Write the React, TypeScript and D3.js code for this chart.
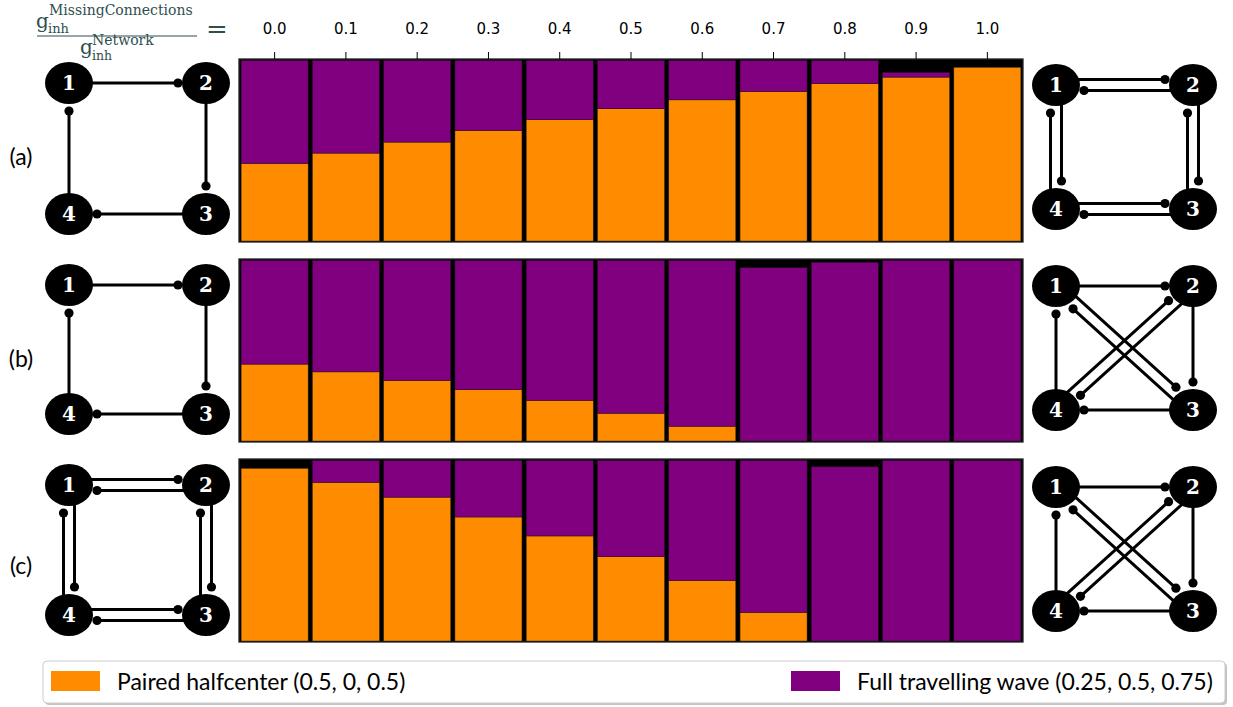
import React from "react";
import * as d3 from "d3";

// Ratio of inhibitory strength of the missing connections to the network's own
const ratioLabels = ["0.0", "0.1", "0.2", "0.3", "0.4", "0.5", "0.6", "0.7", "0.8", "0.9", "1.0"];

// Fraction of runs ending in each rhythm, per network (a), (b), (c)
const pairedA = [0.43, 0.487, 0.548, 0.612, 0.672, 0.733, 0.782, 0.828, 0.872, 0.908, 0.962];
const travelA = [0.57, 0.513, 0.452, 0.388, 0.328, 0.267, 0.218, 0.172, 0.128, 0.026, 0];
const pairedB = [0.426, 0.383, 0.335, 0.284, 0.225, 0.154, 0.082, 0, 0, 0, 0];
const travelB = [0.574, 0.617, 0.665, 0.716, 0.775, 0.846, 0.918, 0.96, 0.99, 1.0, 1.0];
const pairedC = [0.956, 0.879, 0.797, 0.687, 0.582, 0.467, 0.335, 0.159, 0, 0, 0];
const travelC = [0, 0.121, 0.203, 0.313, 0.418, 0.533, 0.665, 0.841, 0.965, 1.0, 1.0];

const rowLabels = ["(a)", "(b)", "(c)"];
const legendLabels = ["Paired halfcenter (0.5, 0, 0.5)", "Full travelling wave (0.25, 0.5, 0.75)"];

const ORANGE = "#ff8c00";
const PURPLE = "#800080";
const FORMULA = "#2f4f4f";
const SANS = "Lato, 'DejaVu Sans', sans-serif";
const SERIF = "'DejaVu Serif', 'Liberation Serif', serif";

type Edge = [number, number];
const ringForward: Edge[] = [[1, 2], [2, 3], [3, 4], [4, 1]];
const ringBackward: Edge[] = [[2, 1], [3, 2], [4, 3], [1, 4]];
const diagonals: Edge[] = [[1, 3], [3, 1], [2, 4], [4, 2]];

const rows = [
  { paired: pairedA, travel: travelA, left: ringForward, right: [...ringForward, ...ringBackward] },
  { paired: pairedB, travel: travelB, left: ringForward, right: [...ringForward, ...diagonals] },
  { paired: pairedC, travel: travelC, left: [...ringForward, ...ringBackward], right: [...ringForward, ...diagonals] },
];

const W = 1233;
const H = 707;
const panelLeft = 239;
const panelRight = 1023;
const panelTop0 = 59;
const panelStep = 200;
const panelH = 183;

const leftNodes = { x: [69, 206], y: [[83, 214], [285, 414], [485, 615]] };
const rightNodes = { x: [1056, 1193], y: [[85, 209], [286, 410], [487, 611]] };
const rowLabelY = [157, 359, 566];

function Network({ xs, ys, edges }: { xs: number[]; ys: number[]; edges: Edge[] }) {
  const pos: Record<number, [number, number]> = {
    1: [xs[0], ys[0]],
    2: [xs[1], ys[0]],
    3: [xs[1], ys[1]],
    4: [xs[0], ys[1]],
  };
  const gap = 28;
  const sep = 5.5;
  return (
    <g>
      {edges.map(([s, t], i) => {
        const [sx, sy] = pos[s];
        const [tx, ty] = pos[t];
        const len = Math.hypot(tx - sx, ty - sy);
        const dx = (tx - sx) / len;
        const dy = (ty - sy) / len;
        const paired = edges.some((e) => e[0] === t && e[1] === s);
        const off = paired ? sep : 0;
        const ox = dy * off;
        const oy = -dx * off;
        const ex = tx + ox - dx * gap;
        const ey = ty + oy - dy * gap;
        return (
          <g key={i}>
            <line x1={sx + ox} y1={sy + oy} x2={ex} y2={ey} stroke="#000" strokeWidth={3} />
            <circle cx={ex} cy={ey} r={4.6} fill="#000" />
          </g>
        );
      })}
      {[1, 2, 3, 4].map((n) => (
        <g key={n}>
          <ellipse cx={pos[n][0]} cy={pos[n][1]} rx={24} ry={21} fill="#000" />
          <text
            x={pos[n][0]}
            y={pos[n][1] + 7}
            textAnchor="middle"
            fill="#fff"
            fontFamily={SERIF}
            fontWeight="bold"
            fontSize={20}
          >
            {n}
          </text>
        </g>
      ))}
    </g>
  );
}

export default function App() {
  const x = d3
    .scaleBand<string>()
    .domain(ratioLabels)
    .range([panelLeft, panelRight])
    .paddingInner(0.06)
    .paddingOuter(0.03);

  return (
    <svg
      width={W}
      height={H}
      viewBox={`0 0 ${W} ${H}`}
      style={{ position: "absolute", left: 0, top: 0, background: "#fff" }}
    >
      {/* ratio formula */}
      <g fill={FORMULA} fontFamily={SERIF}>
        <text x={36} y={28} fontSize={20}>g</text>
        <text x={48} y={33} fontSize={13}>inh</text>
        <text x={49} y={15} fontSize={14}>MissingConnections</text>
        <line x1={37} x2={197} y1={36} y2={36} stroke={FORMULA} strokeWidth={1.1} />
        <text x={80} y={54} fontSize={20}>g</text>
        <text x={92} y={60} fontSize={12.5}>inh</text>
        <text x={92} y={45} fontSize={14}>Network</text>
        <text x={217} y={38} fontSize={26} textAnchor="middle">=</text>
      </g>

      {rows.map((row, r) => {
        const top = panelTop0 + r * panelStep;
        const y = d3.scaleLinear().domain([0, 1]).range([top + panelH - 1, top + 1.5]);
        return (
          <g key={r}>
            <rect x={panelLeft} y={top} width={panelRight - panelLeft} height={panelH} fill="#000" />
            {ratioLabels.map((lab, i) => {
              const bx = x(lab)!;
              const bw = x.bandwidth();
              const p = row.paired[i];
              const t = row.travel[i];
              return (
                <g key={lab}>
                  {p > 0 && (
                    <rect x={bx} y={y(p)} width={bw} height={y(0) - y(p)} fill={ORANGE} stroke="#3a2a10" strokeWidth={0.5} />
                  )}
                  {t > 0 && (
                    <rect x={bx} y={y(p + t)} width={bw} height={y(p) - y(p + t)} fill={PURPLE} stroke="#2a0a2a" strokeWidth={0.5} />
                  )}
                </g>
              );
            })}
            <rect
              x={panelLeft}
              y={top}
              width={panelRight - panelLeft}
              height={panelH}
              fill="none"
              stroke="#222"
              strokeWidth={1.3}
            />
            {r === 0 &&
              ratioLabels.map((lab) => {
                const cx = x(lab)! + x.bandwidth() / 2;
                return (
                  <g key={lab}>
                    <line x1={cx} x2={cx} y1={top - 7} y2={top} stroke="#000" strokeWidth={1} />
                    <text x={cx} y={34} textAnchor="middle" fontFamily="'DejaVu Sans', sans-serif" fontSize={15}>
                      {lab}
                    </text>
                  </g>
                );
              })}
            <text x={21} y={rowLabelY[r] + 8} textAnchor="middle" fontFamily={SANS} fontSize={23}>
              {rowLabels[r]}
            </text>
            <Network xs={leftNodes.x} ys={leftNodes.y[r]} edges={row.left} />
            <Network xs={rightNodes.x} ys={rightNodes.y[r]} edges={row.right} />
          </g>
        );
      })}

      {/* legend */}
      <g>
        <rect x={45} y={663} width={1182} height={42} rx={4} fill="#888" opacity={0.5} />
        <rect x={43} y={661} width={1182} height={42} rx={4} fill="#fff" stroke="#ccc" strokeWidth={1} />
        <rect x={51} y={671} width={49} height={20} fill={ORANGE} />
        <text x={117} y={690} fontFamily={SANS} fontSize={23}>{legendLabels[0]}</text>
        <rect x={791} y={671} width={49} height={20} fill={PURPLE} />
        <text x={857} y={690} fontFamily={SANS} fontSize={23}>{legendLabels[1]}</text>
      </g>
    </svg>
  );
}
